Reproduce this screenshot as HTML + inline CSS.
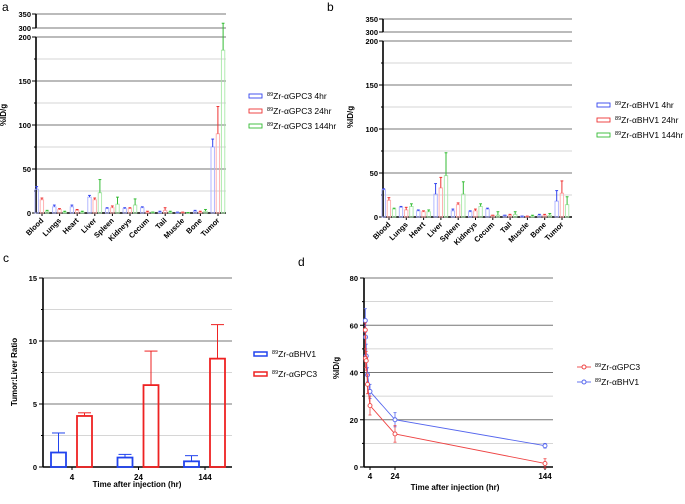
<!DOCTYPE html>
<html><head><meta charset="utf-8"><style>
body{margin:0;background:#fff;font-family:"Liberation Sans",sans-serif}
svg text{font-family:"Liberation Sans",sans-serif}
</style></head><body>
<svg id="fig" width="685" height="499" viewBox="0 0 685 499" xmlns="http://www.w3.org/2000/svg"></svg>
<script>
const organs=["Blood","Lungs","Heart","Liver","Spleen","Kidneys","Cecum","Tail","Muscle","Bone","Tumor"];
const aLabels=["89Zr-αGPC3 4hr","89Zr-αGPC3 24hr","89Zr-αGPC3 144hr"];
const a4=[27,7,7,18,5,5,6,1,0.5,2,75], a4e=[30,9,9,20,6,6,7,2,1,3,84];
const a24=[15,4,3,15,6,5,1,3,0.5,1,90], a24e=[17,5,4,17,8,6,2,6,1,2,121];
const a144=[2,1,1,23,10,9,1,1,0.3,2,185], a144e=[3,2,2,38,18,16,1,2,0.5,4,317];
const bLabels=["89Zr-αBHV1 4hr","89Zr-αBHV1 24hr","89Zr-αBHV1 144hr"];
const b4=[31,11,7,26,7,6,9,2,1,2,18], b4e=[32,12,8,38,9,7,10,2,1,3,30];
const b24=[19,8,6,33,14,7,2,2,0.5,2,27], b24e=[22,11,7,45,16,9,2,3,1,3,41];
const b144=[9,12,6,47,26,12,2,3,1,2,14], b144e=[10,15,8,73,40,15,6,6,2,4,23];
const cCats=["4","24","144"];
const cBHV=[1.15,0.75,0.45], cBHVe=[2.7,1.0,0.9];
const cGPC=[4.05,6.5,8.6], cGPCe=[4.3,9.2,11.3];
const dTimes=[0.25,0.5,1,2,4,24,144];
const dGPC=[58,46,45,35,26,14,1.5], dGPCe=[3,4,4,4,4,3.5,2];
const dBHV=[62,55,47,39,32,20,9], dBHVe=[5,5,5,3,3,3,1];

const NS="http://www.w3.org/2000/svg", svg=document.getElementById('fig');
function el(t,at,p){const e=document.createElementNS(NS,t);for(const k in at)e.setAttribute(k,at[k]);(p||svg).appendChild(e);return e;}
function txt(x,y,s,at,p){const e=el('text',Object.assign({x:x,y:y,'font-size':8,fill:'#000'},at||{}),p);e.textContent=s;return e;}
function grid(g,x0,x1,y,major){el('line',{x1:x0,x2:x1,y1:y,y2:y,stroke:major?'#777':'#c8c8c8','stroke-width':major?1:0.8},g);}
function supLabel(g,x,y,s,fs){const t=el('text',{x:x,y:y,'font-size':fs,fill:'#000'},g);
 const a=el('tspan',{'font-size':fs*0.65,dy:-3},t);a.textContent=s.slice(0,2);
 const b=el('tspan',{dy:3},t);b.textContent=s.slice(2);return t;}
const cols=['#3344ee','#ee3333','#33bb33'];
const light=['#aab0ff','#ffaaaa','#a8e8a8'];

function biodist(name,ox,top350,top300,y200,y0,right,c0,c1,vals,errs,labels,legX,legY,letter,letX,letY,ylX,ylY){
 const g=el('g',{},svg);
 
 
 const ys=v=>v<=200? y0-(v/200)*(y0-y200) : top300-(v-300)/50*(top300-top350);
 // grid
 [0,50,100,150,200].forEach(v=>grid(g,ox,right,ys(v),true));
 [25,75,125,175].forEach(v=>grid(g,ox,right,ys(v),false));
 grid(g,ox,right,top300,true);grid(g,ox,right,top350,true);
 el('line',{x1:ox,x2:ox,y1:y200,y2:y0,stroke:'#000','stroke-width':1.6},g);
 el('line',{x1:ox,x2:ox,y1:top350,y2:top300,stroke:'#000','stroke-width':1.6},g);
 el('line',{x1:ox,x2:right,y1:y0,y2:y0,stroke:'#000','stroke-width':1.6},g);
 [[0,'0'],[50,'50'],[100,'100'],[150,'150'],[200,'200']].forEach(([v,s])=>{el('line',{x1:ox-4,x2:ox,y1:ys(v),y2:ys(v),stroke:'#000'},g);txt(ox-5,ys(v)+3,s,{'text-anchor':'end','font-size':7.5,'font-weight':'bold'},g);});
 [25,75,125,175].forEach(v=>el('line',{x1:ox-2,x2:ox,y1:ys(v),y2:ys(v),stroke:'#000'},g));
 [[300,'300',top300],[350,'350',top350]].forEach(([v,s,y])=>{el('line',{x1:ox-4,x2:ox,y1:y,y2:y,stroke:'#000'},g);txt(ox-5,y+3,s,{'text-anchor':'end','font-size':7.5,'font-weight':'bold'},g);});
 const step=(c1-c0)/(organs.length-1);
 organs.forEach((o,i)=>{const cx=c0+i*step;
  el('line',{x1:cx,x2:cx,y1:y0,y2:y0+3,stroke:'#000'},g);
  const t=txt(cx+2,y0+8,o,{'text-anchor':'end','font-size':7.5,'font-weight':'bold',transform:`rotate(-45 ${cx+2} ${y0+8})`},g);
  
  
  for(let s=0;s<3;s++){const bx=cx-7+s*5.2, w=3.4;
   const yv=ys(vals[s][i]), ye=ys(errs[s][i]);
   const r=el('rect',{x:bx,y:yv,width:w,height:Math.max(0.5,y0-yv),fill:'none',stroke:light[s],'stroke-width':0.9},g);
   
   
   el('line',{x1:bx+w/2,x2:bx+w/2,y1:yv,y2:ye,stroke:cols[s],'stroke-width':1},g);
   el('line',{x1:bx+0.3,x2:bx+w-0.3,y1:ye,y2:ye,stroke:cols[s],'stroke-width':1},g);}
 });
 labels.forEach((l,s)=>{const y=legY+s*15;
  const r=el('rect',{x:legX,y:y-4,width:13,height:4,fill:'none',stroke:cols[s],'stroke-width':0.9},g);
  
  
  supLabel(g,legX+18,y+1,l,8.5);});
 txt(ylX,ylY,'%ID/g',{'font-size':8,'font-weight':'bold','text-anchor':'middle',transform:`rotate(-90 ${ylX} ${ylY})`},g);
 txt(letX,letY,letter,{'font-size':12},g);
}
biodist('panel-a',36,14,28,37,213,226,42,218,[a4,a24,a144],[a4e,a24e,a144e],aLabels,249,98,'a',2,11,6,115);
biodist('panel-b',383,19,32,41,217,572,389,562,[b4,b24,b144],[b4e,b24e,b144e],bLabels,597,107,'b',327,11,353,117);

// panel c
(function(){
 const g=el('g',{},svg);
 
 
 const ox=43,y0=467,yt=278,right=232;
 const ys=v=>y0-v/15*(y0-yt);
 [0,5,10,15].forEach(v=>grid(g,ox,right,ys(v),true));
 [2.5,7.5,12.5].forEach(v=>grid(g,ox,right,ys(v),false));
 el('line',{x1:ox,x2:ox,y1:yt,y2:y0,stroke:'#000','stroke-width':1.6},g);
 el('line',{x1:ox,x2:right,y1:y0,y2:y0,stroke:'#000','stroke-width':1.6},g);
 [0,5,10,15].forEach(v=>{el('line',{x1:ox-4,x2:ox,y1:ys(v),y2:ys(v),stroke:'#000'},g);txt(ox-6,ys(v)+3,String(v),{'text-anchor':'end','font-size':7.5,'font-weight':'bold'},g);});
 [2.5,7.5,12.5].forEach(v=>el('line',{x1:ox-2,x2:ox,y1:ys(v),y2:ys(v),stroke:'#000'},g));
 const cx0=72,step=66.5;
 cCats.forEach((c,i)=>{const cx=cx0+i*step;
  el('line',{x1:cx,x2:cx,y1:y0,y2:y0+3,stroke:'#000'},g);
  txt(cx,y0+13,c,{'text-anchor':'middle','font-size':8,'font-weight':'bold'},g);
  [[cBHV,cBHVe,'#2244ee',-21],[cGPC,cGPCe,'#ee2222',5]].forEach(([v,e,col,off])=>{
   const bx=cx+off,w=15,yv=ys(v[i]),ye=ys(e[i]);
   const r=el('rect',{x:bx,y:yv,width:w,height:y0-yv,fill:'none',stroke:col,'stroke-width':1.8},g);
   
   
   el('line',{x1:bx+w/2,x2:bx+w/2,y1:yv,y2:ye,stroke:col,'stroke-width':1},g);
   el('line',{x1:bx+1,x2:bx+w-1,y1:ye,y2:ye,stroke:col,'stroke-width':1},g);});
 });
 [['89Zr-αBHV1','#2244ee'],['89Zr-αGPC3','#ee2222']].forEach(([l,col],s)=>{const y=356+s*20;
  el('rect',{x:254,y:y-4,width:13,height:4,fill:'none',stroke:col,'stroke-width':1.5},g);
  supLabel(g,272,y+1,l,8.5);});
 txt(137,487,'Time after injection (hr)',{'text-anchor':'middle','font-size':8,'font-weight':'bold'},g);
 txt(17,372,'Tumor:Liver Ratio',{'text-anchor':'middle','font-size':8,'font-weight':'bold',transform:'rotate(-90 17 372)'},g);
 txt(3,262,'c',{'font-size':12},g);
})();

// panel d
(function(){
 const g=el('g',{},svg);
 
 
 const ox=364,y0=467,yt=278,right=553;
 const ys=v=>y0-v/80*(y0-yt), xs=t=>365+t*1.25;
 [0,20,40,60,80].forEach(v=>grid(g,ox,right,ys(v),true));
 [10,30,50,70].forEach(v=>grid(g,ox,right,ys(v),false));
 el('line',{x1:ox,x2:ox,y1:yt,y2:y0,stroke:'#000','stroke-width':1.6},g);
 el('line',{x1:ox,x2:right,y1:y0,y2:y0,stroke:'#000','stroke-width':1.6},g);
 [0,20,40,60,80].forEach(v=>{el('line',{x1:ox-4,x2:ox,y1:ys(v),y2:ys(v),stroke:'#000'},g);txt(ox-6,ys(v)+3,String(v),{'text-anchor':'end','font-size':7.5,'font-weight':'bold'},g);});
 [10,30,50,70].forEach(v=>el('line',{x1:ox-2,x2:ox,y1:ys(v),y2:ys(v),stroke:'#000'},g));
 [4,24,144].forEach(t=>{el('line',{x1:xs(t),x2:xs(t),y1:y0,y2:y0+3,stroke:'#000'},g);txt(xs(t),y0+12,String(t),{'text-anchor':'middle','font-size':8,'font-weight':'bold'},g);});
 [[dBHV,dBHVe,'#5566ee'],[dGPC,dGPCe,'#ee4444']].forEach(([v,e,col])=>{
  const p=el('polyline',{points:dTimes.map((t,i)=>xs(t)+','+ys(v[i])).join(' '),fill:'none',stroke:col,'stroke-width':0.9},g);
  
  
  dTimes.forEach((t,i)=>{const x=xs(t);
   el('line',{x1:x,x2:x,y1:ys(v[i]-e[i]),y2:ys(v[i]+e[i]),stroke:col,'stroke-width':0.8},g);
   el('line',{x1:x-1.5,x2:x+1.5,y1:ys(v[i]+e[i]),y2:ys(v[i]+e[i]),stroke:col,'stroke-width':0.8},g);
   el('line',{x1:x-1.5,x2:x+1.5,y1:ys(v[i]-e[i]),y2:ys(v[i]-e[i]),stroke:col,'stroke-width':0.8},g);
   const c=el('circle',{cx:x,cy:ys(v[i]),r:2,fill:'#fff',stroke:col,'stroke-width':0.9},g);
   
   });
 });
 [['89Zr-αGPC3','#ee4444'],['89Zr-αBHV1','#5566ee']].forEach(([l,col],s)=>{const y=367+s*15;
  el('line',{x1:577,x2:591,y1:y,y2:y,stroke:col,'stroke-width':0.9},g);
  el('circle',{cx:584,cy:y,r:2,fill:'#fff',stroke:col},g);
  supLabel(g,595,y+3,l,8.5);});
 txt(455,490,'Time after injection (hr)',{'text-anchor':'middle','font-size':8,'font-weight':'bold'},g);
 txt(339,368,'%ID/g',{'text-anchor':'middle','font-size':8,'font-weight':'bold',transform:'rotate(-90 339 368)'},g);
 txt(298,266,'d',{'font-size':12},g);
})();
</script>
</body></html>
